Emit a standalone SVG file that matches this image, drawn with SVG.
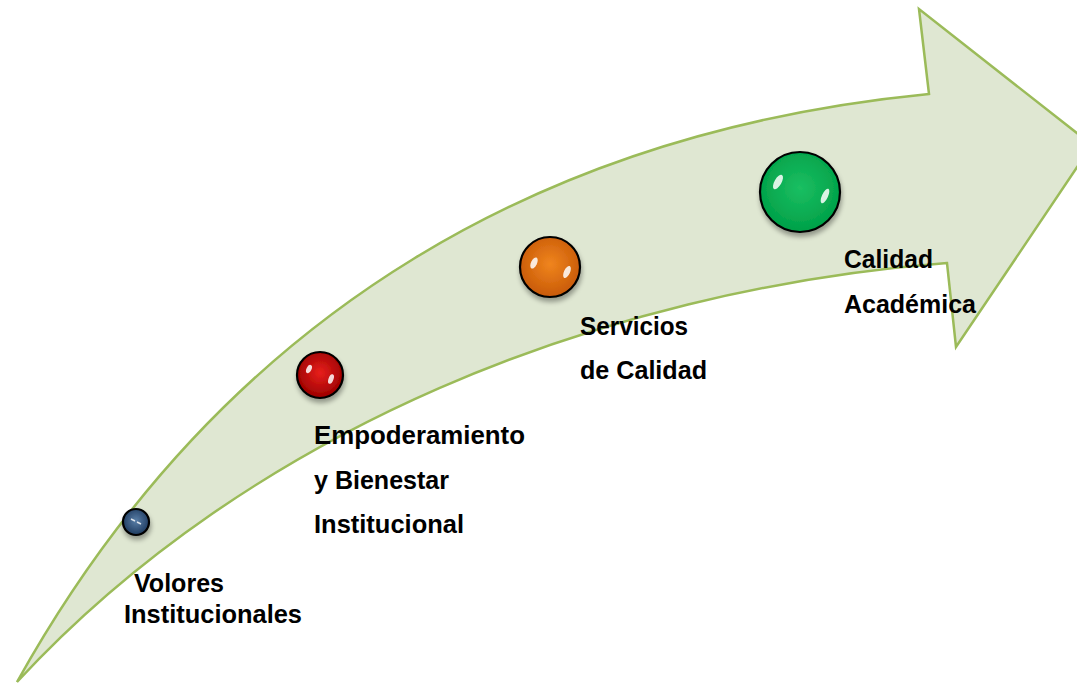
<svg xmlns="http://www.w3.org/2000/svg" width="1077" height="683" viewBox="0 0 1077 683">
<style>
.lbl{font-family:"Liberation Sans",Arial,sans-serif;font-weight:bold;font-size:25px;fill:#000}
.ring{stroke:#000;stroke-width:2.2}
.hl{fill:#fff;opacity:0.85}
</style>
<defs>
<radialGradient id="gBlue" cx="0.5" cy="0.45" r="0.55"><stop offset="0" stop-color="#5a7fa8"/><stop offset="1" stop-color="#1d3a5e"/></radialGradient>
<radialGradient id="gRed" cx="0.5" cy="0.45" r="0.55"><stop offset="0" stop-color="#e8201c"/><stop offset="1" stop-color="#9a0000"/></radialGradient>
<radialGradient id="gOrange" cx="0.5" cy="0.45" r="0.55"><stop offset="0" stop-color="#f0851e"/><stop offset="1" stop-color="#c85a08"/></radialGradient>
<radialGradient id="gGreen" cx="0.5" cy="0.45" r="0.55"><stop offset="0" stop-color="#1bbf62"/><stop offset="1" stop-color="#00a048"/></radialGradient>
<filter id="sh" x="-30%" y="-30%" width="160%" height="170%"><feGaussianBlur in="SourceAlpha" stdDeviation="2.5"/><feOffset dx="1" dy="4"/><feComponentTransfer><feFuncA type="linear" slope="0.35"/></feComponentTransfer><feMerge><feMergeNode/><feMergeNode in="SourceGraphic"/></feMerge></filter>
</defs>
<g id="arrow">
<path d="M17,682 C230,300 560,130 929,94 L919,9 L1092,145 L956,347 L947,263 C600,290 250,430 17,682 Z" fill="#dfe7d2" stroke="#9bbb59" stroke-width="2.5" stroke-linejoin="miter"/>
</g>
<g id="node-valores">
<circle cx="136" cy="522" r="13" fill="url(#gBlue)" class="ring" filter="url(#sh)"/>
<path d="M131,519 l4,2 M137,522 l4,2" stroke="#fff" stroke-width="1.5" opacity="0.8"/>
<text class="lbl" x="134" y="592" textLength="90" lengthAdjust="spacingAndGlyphs">Volores</text>
<text class="lbl" x="124" y="623" textLength="178" lengthAdjust="spacingAndGlyphs">Institucionales</text>
</g>
<g id="node-empoderamiento">
<circle cx="320" cy="375" r="23" fill="url(#gRed)" class="ring" filter="url(#sh)"/>
<ellipse cx="309" cy="369" rx="2.5" ry="4.5" class="hl" transform="rotate(25 309 369)"/>
<ellipse cx="331" cy="379" rx="2.5" ry="5" class="hl" transform="rotate(20 331 379)"/>
<text class="lbl" x="314" y="444" textLength="211" lengthAdjust="spacingAndGlyphs">Empoderamiento</text>
<text class="lbl" x="314" y="489" textLength="135" lengthAdjust="spacingAndGlyphs">y Bienestar</text>
<text class="lbl" x="314" y="533" textLength="150" lengthAdjust="spacingAndGlyphs">Institucional</text>
</g>
<g id="node-servicios">
<circle cx="550" cy="267" r="30" fill="url(#gOrange)" class="ring" filter="url(#sh)"/>
<ellipse cx="534" cy="263" rx="3" ry="6" class="hl" transform="rotate(25 534 263)"/>
<ellipse cx="567" cy="272" rx="3" ry="6.5" class="hl" transform="rotate(25 567 272)"/>
<text class="lbl" x="580" y="335" textLength="108" lengthAdjust="spacingAndGlyphs">Servicios</text>
<text class="lbl" x="580" y="379" textLength="127" lengthAdjust="spacingAndGlyphs">de Calidad</text>
</g>
<g id="node-calidad">
<circle cx="800" cy="192" r="40" fill="url(#gGreen)" class="ring" filter="url(#sh)"/>
<ellipse cx="778" cy="182" rx="3.5" ry="8" class="hl" transform="rotate(30 778 182)"/>
<ellipse cx="825" cy="196" rx="3" ry="8" class="hl" transform="rotate(25 825 196)"/>
<text class="lbl" x="844" y="268" textLength="89" lengthAdjust="spacingAndGlyphs">Calidad</text>
<text class="lbl" x="844" y="313" textLength="132" lengthAdjust="spacingAndGlyphs">Académica</text>
</g>
<g id="connectors"></g>
</svg>
